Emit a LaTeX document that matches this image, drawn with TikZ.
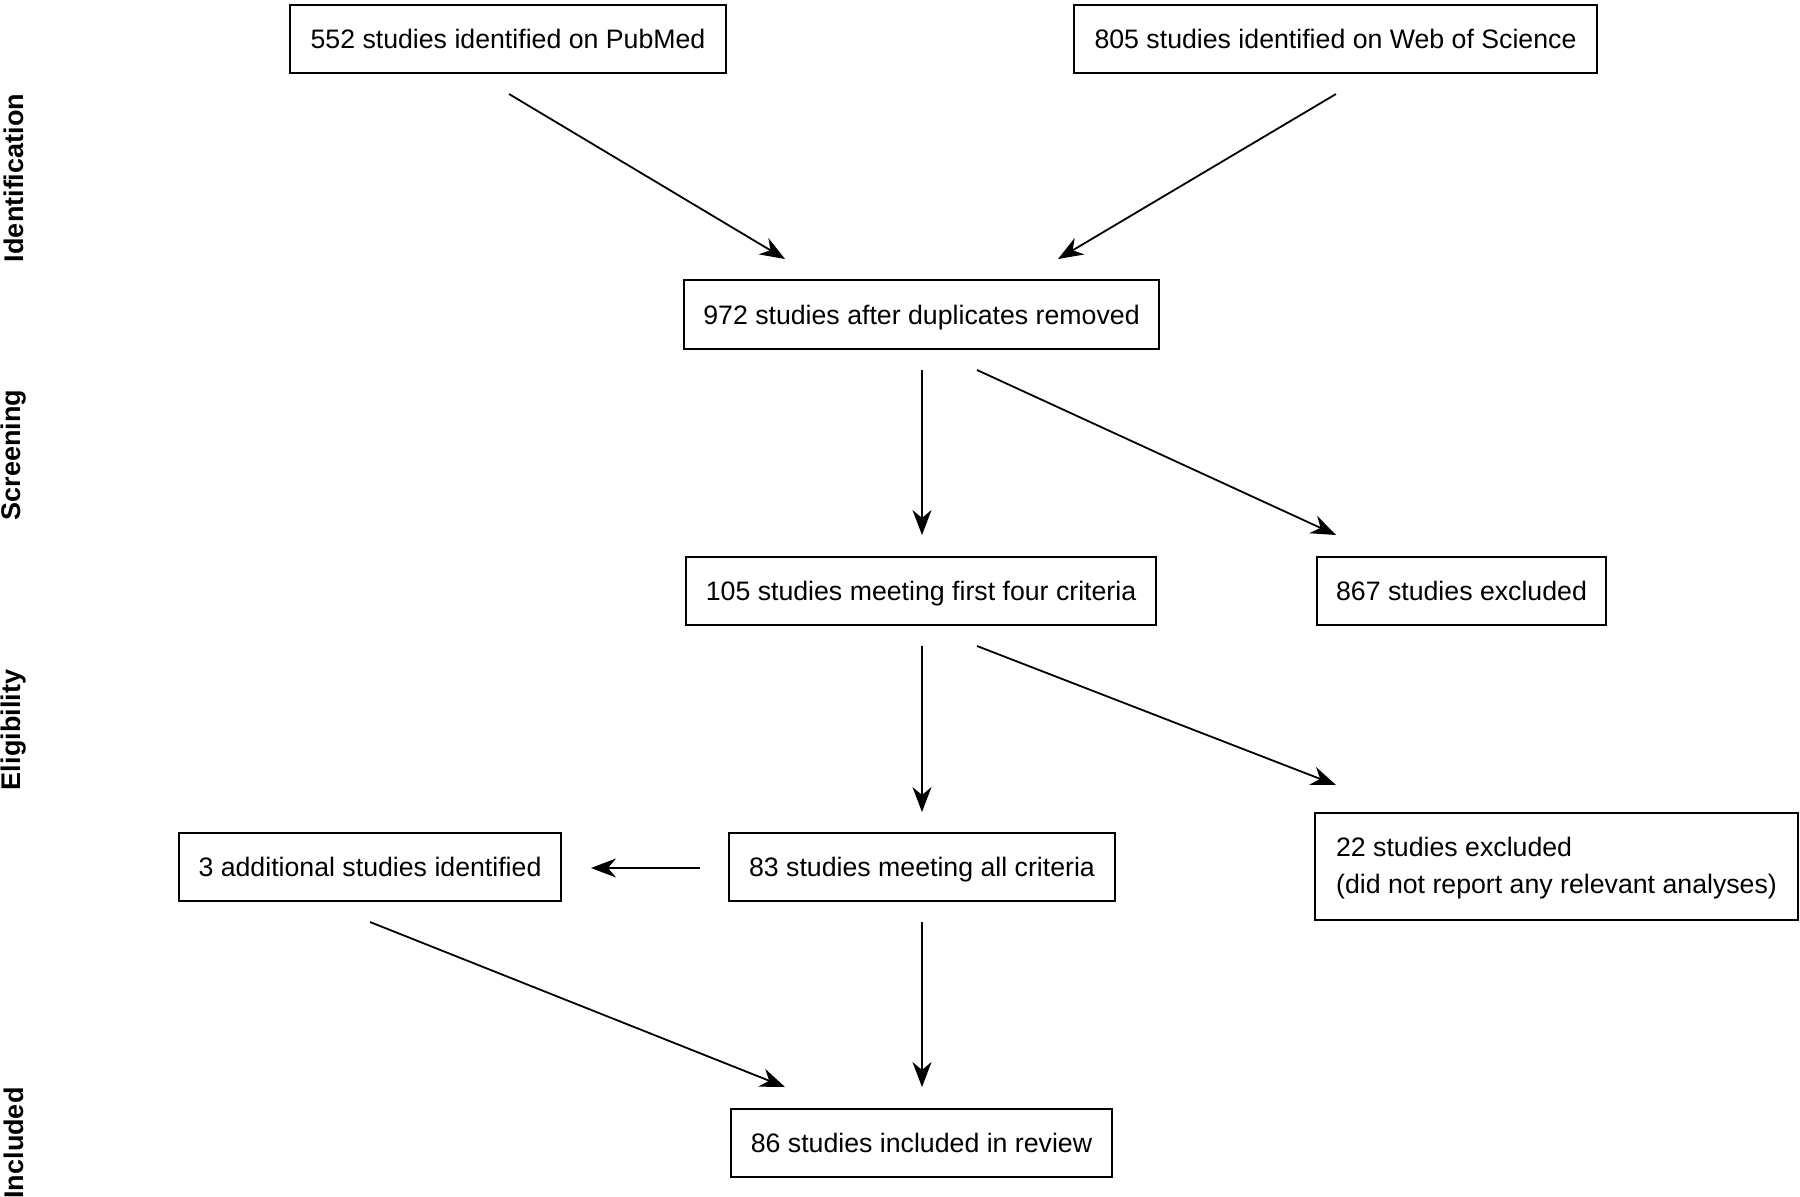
\documentclass[tikz,border=0pt]{standalone}
\usepackage{fontspec}
\setmainfont{Liberation Sans}
\usetikzlibrary{arrows.meta}
\begin{document}
\begin{tikzpicture}[x=1pt,y=-1pt,
  boxbase/.style={draw=black,line width=1.8pt,inner sep=0pt,
    font=\fontsize{26.7}{36.5}\selectfont},
  box/.style={boxbase,text height=19.2pt,text depth=0pt},
  arr/.style={line width=1.8pt,-{Stealth[length=25pt,width=19pt,inset=8pt]}},
  side/.style={rotate=90,font=\fontsize{27}{32}\selectfont\bfseries}]
\useasboundingbox (0,0) rectangle (1800,1197);
% boxes
\node[box,minimum width=436pt,minimum height=68pt] (pub) at (508,39) {552 studies identified on PubMed};
\node[box,minimum width=523pt,minimum height=68pt] (wos) at (1335.5,39) {805 studies identified on Web of Science};
\node[box,minimum width=475pt,minimum height=69pt] (n972) at (921.5,314.5) {972 studies after duplicates removed};
\node[box,minimum width=470pt,minimum height=68pt] (n105) at (921,591) {105 studies meeting first four criteria};
\node[box,minimum width=289pt,minimum height=68pt] (n867) at (1461.5,591) {867 studies excluded};
\node[box,minimum width=382pt,minimum height=68pt] (n3) at (370,867) {3 additional studies identified};
\node[box,minimum width=386pt,minimum height=68pt] (n83) at (922,867) {83 studies meeting all criteria};
\node[boxbase,minimum width=483pt,minimum height=107pt,align=left,text depth=2pt] (n22) at (1556.5,866.5) {22 studies excluded\\(did not report any relevant analyses)};
\node[box,minimum width=381pt,minimum height=68pt] (n86) at (921.5,1143) {86 studies included in review};
% side labels
\node[side] (lid) at (14,178) {Identification};
\node[side] (lsc) at (14,455) {Screening};
\node[side] (lel) at (14,730) {Eligibility};
\node[side] (lin) at (14,1143) {Included};
% connector end points
\coordinate (a1s) at (509,94);   \coordinate (a1e) at (785,259);
\coordinate (a2s) at (1336,94);  \coordinate (a2e) at (1058,259);
\coordinate (a3s) at (922,370);  \coordinate (a3e) at (922,535);
\coordinate (a4s) at (977,370);  \coordinate (a4e) at (1336,535);
\coordinate (a5s) at (922,646);  \coordinate (a5e) at (922,812);
\coordinate (a6s) at (977,646);  \coordinate (a6e) at (1336,785);
\coordinate (a7s) at (700,868);  \coordinate (a7e) at (591,868);
\coordinate (a8s) at (370,922);  \coordinate (a8e) at (785,1087);
\coordinate (a9s) at (922,922);  \coordinate (a9e) at (922,1087);
% connectors
\draw[arr] (a1s) -- (a1e);
\draw[arr] (a2s) -- (a2e);
\draw[arr] (a3s) -- (a3e);
\draw[arr] (a4s) -- (a4e);
\draw[arr] (a5s) -- (a5e);
\draw[arr] (a6s) -- (a6e);
\draw[arr] (a7s) -- (a7e);
\draw[arr] (a8s) -- (a8e);
\draw[arr] (a9s) -- (a9e);
\end{tikzpicture}
\end{document}
